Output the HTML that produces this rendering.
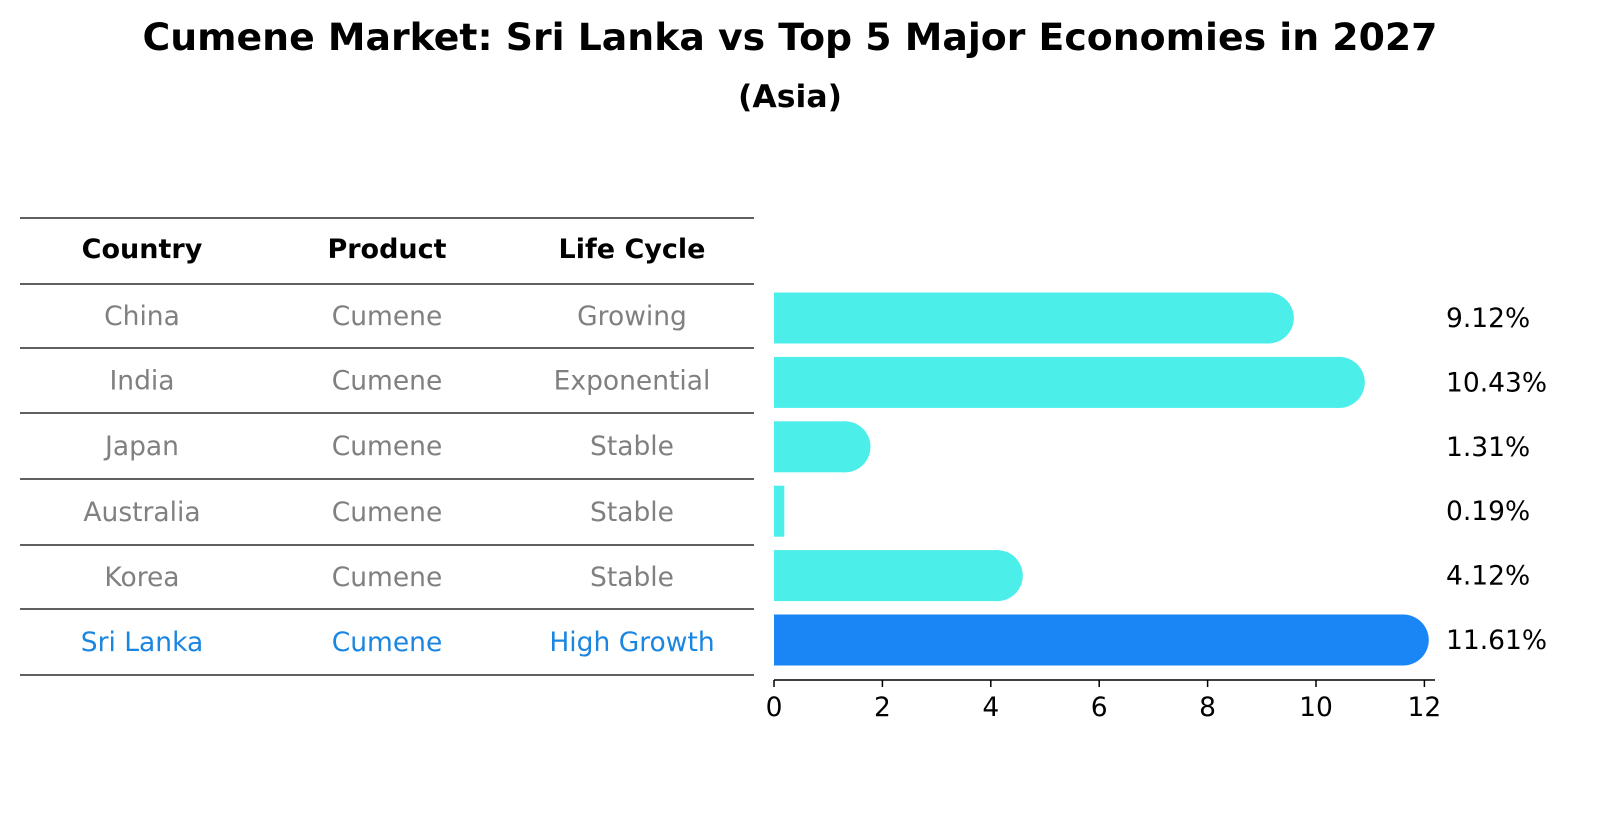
<!DOCTYPE html>
<html><head><meta charset="utf-8"><style>
body{margin:0;background:#fff;font-family:"Liberation Sans","DejaVu Sans",sans-serif}
svg text{font-family:"DejaVu Sans","Liberation Sans",sans-serif}
</style></head><body>
<svg width="1604" height="823" viewBox="0 0 1604 823" xmlns="http://www.w3.org/2000/svg">
<text x="790" y="50" text-anchor="middle" font-size="37.8" font-weight="bold">Cumene Market: Sri Lanka vs Top 5 Major Economies in 2027</text>
<text x="790" y="107" text-anchor="middle" font-size="31.5" font-weight="bold">(Asia)</text>
<g id="table"></g>
<g id="bars"></g>
<g id="axis"></g>
</svg>
<script>
const countries=["China","India","Japan","Australia","Korea","Sri Lanka"];
const products=["Cumene","Cumene","Cumene","Cumene","Cumene","Cumene"];
const lifeCycles=["Growing","Exponential","Stable","Stable","Stable","High Growth"];
const values=[9.12,10.43,1.31,0.19,4.12,11.61];
const ticks=[0,2,4,6,8,10,12];
const NS="http://www.w3.org/2000/svg";
function mk(tag,attrs,parent,txt){const e=document.createElementNS(NS,tag);for(const k in attrs)e.setAttribute(k,attrs[k]);if(txt!==undefined)e.textContent=txt;parent.appendChild(e);return e;}
const x0=774,ppu=54.2;
const xs=v=>x0+v*ppu;
const rowY=i=>318+i*64.4;
const table=document.getElementById('table');
const lineYs=[218,284,348,413,479,545,609,675];
lineYs.forEach((y,i)=>{const l=mk('line',{x1:20,x2:754,y1:y,y2:y,stroke:'#000','stroke-width':1.2},table);

});
const cols=[142,387,632];
["Country","Product","Life Cycle"].forEach((h,j)=>{const t=mk('text',{x:cols[j],y:258,'text-anchor':'middle','font-size':27,'font-weight':'bold'},table,h);

});
countries.forEach((c,i)=>{const col=i===countries.length-1?'#1a86e0':'#808080';
const cy=(lineYs[i+1]+lineYs[i+2])/2+9;
[c,products[i],lifeCycles[i]].forEach((s,j)=>{const t=mk('text',{x:cols[j],y:cy,'text-anchor':'middle','font-size':26.5,fill:col},table,s);

});});
const bars=document.getElementById('bars');
values.forEach((v,i)=>{const cy=rowY(i),h=51,last=i===values.length-1;const col=last?'#1a86f5':'#4ceeea';
const g=mk('g',{},bars);


const w=xs(v)-x0;
mk('rect',{x:x0,y:cy-h/2,width:w,height:h,fill:col},g);
if(v>0.5)mk('circle',{cx:xs(v),cy:cy,r:h/2,fill:col},g);
const t=mk('text',{x:1446,y:cy+9,'font-size':26.5},bars,v.toFixed(2)+'%');

});
const ax=document.getElementById('axis');
mk('line',{x1:x0,x2:1435,y1:680,y2:680,stroke:'#000','stroke-width':1.5},ax);
ticks.forEach(t=>{mk('line',{x1:xs(t),x2:xs(t),y1:680,y2:687,stroke:'#000','stroke-width':1.5},ax);
const l=mk('text',{x:xs(t),y:716,'text-anchor':'middle','font-size':26.5},ax,t);

});
</script>
</body></html>
